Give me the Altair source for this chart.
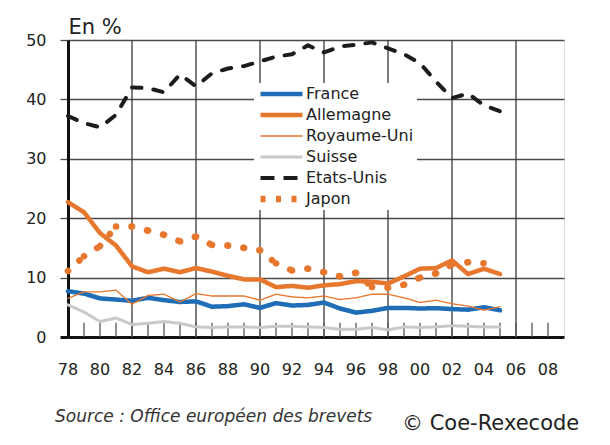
import altair as alt
import pandas as pd

years = list(range(1978, 2006))
france = [7.7, 7.3, 6.5, 6.3, 6.1, 6.6, 6.2, 5.9, 6.0, 5.1, 5.2, 5.5, 4.9, 5.7,
          5.3, 5.4, 5.8, 4.8, 4.1, 4.4, 4.9, 4.9, 4.8, 4.85, 4.7, 4.6, 5.0, 4.5]
allemagne = [22.7, 21.0, 17.5, 15.4, 11.9, 10.9, 11.5, 10.9, 11.6, 11.0, 10.3, 9.7,
             9.7, 8.4, 8.6, 8.3, 8.7, 8.9, 9.4, 9.3, 9.0, 10.2, 11.5, 11.6, 12.9,
             10.6, 11.5, 10.6]
royaume_uni = [6.5, 7.6, 7.6, 7.9, 5.5, 7.0, 7.2, 5.9, 7.3, 6.9, 6.9, 6.9, 6.2, 7.2,
               6.75, 6.6, 6.9, 6.3, 6.6, 7.2, 7.2, 6.6, 5.8, 6.2, 5.6, 5.2, 4.5, 5.1]
suisse = [5.4, 4.2, 2.6, 3.2, 2.1, 2.3, 2.6, 2.3, 1.7, 1.6, 1.7, 1.7, 1.6, 1.8,
          1.8, 1.7, 1.6, 1.3, 1.3, 1.6, 1.2, 1.7, 1.6, 1.7, 1.9, 1.8, 1.7, 1.7]
etats_unis = [37.2, 36.0, 35.3, 37.4, 42.0, 41.9, 41.2, 44.2, 42.2, 44.4, 45.2, 45.6,
              46.4, 47.2, 47.6, 49.1, 47.9, 48.9, 49.2, 49.6, 48.6, 47.6, 46.1, 43.0,
              40.2, 41.0, 39.0, 38.0]
japon = [11.1, 13.6, 15.3, 18.6, 18.6, 17.9, 17.2, 16.1, 16.9, 15.5, 15.4, 15.0,
         14.6, 12.4, 11.2, 11.5, 10.9, 10.2, 10.8, 8.4, 8.3, 8.8, 10.0, 10.7, 12.2,
         12.6, 12.4]

series_names = ["France", "Allemagne", "Royaume-Uni", "Suisse", "Etats-Unis", "Japon"]
label_years = list(range(1978, 2009, 2))
grid_years = list(range(1982, 2009, 4))
minor_years = list(range(1979, 2009))
y_values = [0, 10, 20, 30, 40, 50]

source_text = "Source : Office européen des brevets"
copyright_text = "© Coe-Rexecode"
unit_text = "En %"

solid_rows = []
for name, vals in zip(series_names[:4], [france, allemagne, royaume_uni, suisse]):
    for yr, v in zip(years, vals):
        solid_rows.append({"pays": name, "annee": yr, "valeur": v})
df_solid = pd.DataFrame(solid_rows)
df_us = pd.DataFrame({"annee": years, "valeur": etats_unis})
# Japon: one path per year-to-year step so the dot pattern restarts at every year
jp_rows = []
for i in range(len(japon) - 1):
    for j in (i, i + 1):
        jp_rows.append({"seg": i, "annee": years[j], "valeur": japon[j]})
df_jp = pd.DataFrame(jp_rows)

FONT = "DejaVu Sans"
TXT = "#222222"
BLUE, ORANGE, GREY, BLACK = "#1f6db6", "#e8772e", "#c9c9c9", "#1c1c1c"

xscale = alt.Scale(domain=[1978, 2009], nice=False, zero=False)
yscale = alt.Scale(domain=[0, 50], nice=False)

y_axis = alt.Axis(values=y_values, grid=True,
                  gridColor={"condition": {"test": "datum.value === 0", "value": "#111111"}, "value": "#4a4a4a"},
                  gridWidth={"condition": {"test": "datum.value === 0", "value": 3}, "value": 1.3},
                  tickColor={"condition": {"test": "datum.value === 0", "value": "#111111"}, "value": "#4a4a4a"},
                  tickWidth={"condition": {"test": "datum.value === 0", "value": 3}, "value": 1.3},
                  tickSize=8, domain=True, domainColor="#111111", domainWidth=3,
                  labelPadding=14, labelFontSize=16, labelColor=TXT, labelFont=FONT,
                  title=unit_text, titleAngle=0, titleAlign="left", titleBaseline="alphabetic",
                  titleX=0, titleY=-7, titleFontSize=21, titleFontWeight="normal",
                  titleColor=TXT, titleFont=FONT)

legend = alt.Legend(title=None, orient="none", legendX=186, legendY=43,
                    symbolType="stroke", symbolSize=1764, clipHeight=16, rowPadding=5,
                    labelFontSize=16, labelFont=FONT, labelColor=TXT, labelOffset=0,
                    fillColor="white", padding=3)

color_scale = alt.Scale(domain=series_names, range=[BLUE, ORANGE, ORANGE, GREY, BLACK, ORANGE])
width_scale = alt.Scale(type="ordinal", domain=series_names, range=[4.5, 4.5, 1.3, 3, 4, 6.5])
dash_scale = alt.Scale(domain=series_names,
                       range=[[1, 0], [1, 0], [1, 0], [1, 0], [14, 9], [5, 10.5]])

X = alt.X("annee:Q", scale=xscale, axis=None)

vgrid = alt.Chart(pd.DataFrame({"annee": grid_years})).mark_rule(
    color="#3a3a3a", strokeWidth=1.3).encode(x=X)

minor = alt.Chart(pd.DataFrame({"annee": minor_years})).mark_rule(
    color="#555555", strokeWidth=1.3).encode(
    x=X, y=alt.datum(0, scale=yscale, axis=y_axis), y2=alt.datum(2.4))

xlabels = alt.Chart(pd.DataFrame({"annee": label_years})).transform_calculate(
    lab="slice(toString(datum.annee), 2)").mark_text(
    baseline="top", align="center", dy=25, font=FONT, fontSize=16, color=TXT).encode(
    x=X, y=alt.datum(0), text="lab:N")

lines = alt.Chart(df_solid).mark_line(strokeCap="round", strokeJoin="round").encode(
    x=X,
    y=alt.Y("valeur:Q", scale=yscale, axis=y_axis),
    color=alt.Color("pays:N", scale=color_scale, legend=legend),
    strokeWidth=alt.StrokeWidth("pays:N", scale=width_scale, legend=legend),
    strokeDash=alt.StrokeDash("pays:N", scale=dash_scale, legend=legend))

us = alt.Chart(df_us).mark_line(color=BLACK, strokeWidth=4, strokeDash=[9.5, 12],
                                strokeCap="round", strokeJoin="round").encode(
    x=X, y=alt.Y("valeur:Q", scale=yscale))

jp = alt.Chart(df_jp).mark_line(color=ORANGE, strokeWidth=6.5, strokeDash=[0.1, 15.4],
                                strokeCap="round").encode(
    x=X, y=alt.Y("valeur:Q", scale=yscale), detail="seg:N")

src = alt.Chart(pd.DataFrame({"t": [source_text]})).mark_text(
    align="left", baseline="alphabetic", font=FONT, fontSize=17, fontStyle="italic",
    color="#333333").encode(text="t:N", x=alt.value(-13), y=alt.value(382))

cpy = alt.Chart(pd.DataFrame({"t": [copyright_text]})).mark_text(
    align="left", baseline="alphabetic", font=FONT, fontSize=21, color=TXT).encode(
    text="t:N", x=alt.value(334), y=alt.value(390))

chart = alt.layer(vgrid, minor, xlabels, lines, us, jp, src, cpy).properties(
    width=496, height=297, autosize="none",
    padding={"left": 60, "top": 32, "right": 38, "bottom": 100}
).configure_view(stroke="#333333", strokeWidth=1.3).configure(background="white")

chart.save("out.html", embed_options={"renderer": "svg", "actions": False})
